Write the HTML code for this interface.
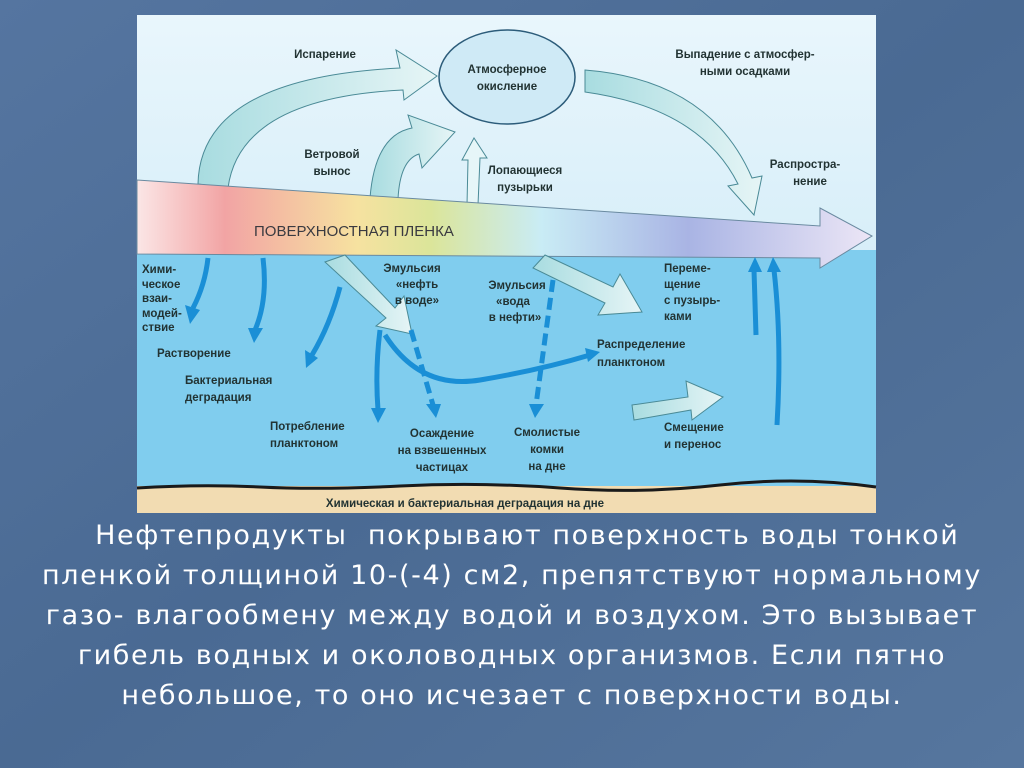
<!DOCTYPE html>
<html><head><meta charset="utf-8"><style>
body{margin:0;width:1024px;height:768px;overflow:hidden;background:#4f6f98;font-family:"Liberation Sans",sans-serif}
svg{position:absolute;left:0;top:0}
.t{position:absolute;left:0;width:1024px;color:#fff;font-family:"DejaVu Sans",sans-serif;font-size:27px;letter-spacing:1.6px;text-align:center;line-height:40px;top:516px;white-space:nowrap}
</style></head><body>
<svg width="1024" height="768" viewBox="0 0 1024 768" font-family="Liberation Sans, sans-serif">
<defs>
<linearGradient id="bg" x1="0" y1="0" x2="1" y2="1"><stop offset="0" stop-color="#5575a0"/><stop offset="0.5" stop-color="#4a6a93"/><stop offset="1" stop-color="#56769e"/></linearGradient>
<linearGradient id="sky" x1="0" y1="0" x2="0" y2="1"><stop offset="0" stop-color="#e9f6fc"/><stop offset="1" stop-color="#c4e6f5"/></linearGradient>
<linearGradient id="film" x1="0" y1="0" x2="1" y2="0"><stop offset="0" stop-color="#fbe6e6"/><stop offset="0.12" stop-color="#f2a4a4"/><stop offset="0.3" stop-color="#f6e2a0"/><stop offset="0.4" stop-color="#dbe59a"/><stop offset="0.55" stop-color="#c9ecf5"/><stop offset="0.75" stop-color="#a9b4e4"/><stop offset="1" stop-color="#ece6f6"/></linearGradient>
<linearGradient id="arr" x1="0" y1="0" x2="1" y2="0"><stop offset="0" stop-color="#a8dce0"/><stop offset="1" stop-color="#e6f5f6"/></linearGradient>
</defs>
<rect width="1024" height="768" fill="url(#bg)"/>
<rect x="137" y="15" width="739" height="498" fill="url(#sky)"/>
<rect x="137" y="250" width="739" height="236" fill="#80cdee"/>
<rect x="137" y="486" width="739" height="27" fill="#f2dcb2"/>
<path d="M137 488 Q200 484 260 487 T400 486 T560 488 T720 485 T876 487" stroke="#1a1a1a" stroke-width="3" fill="none"/>
<path d="M198 184 Q200 78 400 68 L396 50 L437 76 L404 100 L403 90 Q240 98 228 188 Z" fill="url(#arr)" stroke="#4a8a96" stroke-width="1"/>
<path d="M370 198 Q375 135 412 128 L408 115 L455 132 L422 168 L419 154 Q400 160 398 199 Z" fill="url(#arr)" stroke="#4a8a96" stroke-width="1"/>
<path d="M467 205 L468 160 L462 160 L474 138 L487 158 L480 158 L478 205 Z" fill="#e6f6f8" stroke="#4a8a96" stroke-width="1"/>
<path d="M585 70 Q710 80 752 178 L762 176 L754 215 L728 186 L738 184 Q700 108 585 92 Z" fill="url(#arr)" stroke="#4a8a96" stroke-width="1"/>
<path d="M137 180 L820 226 L820 208 L872 236 L820 268 L820 258 L137 254 Z" fill="url(#film)" stroke="#6a8aa0" stroke-width="1"/>
<text x="254" y="236" font-size="15" fill="#3a3a40">ПОВЕРХНОСТНАЯ ПЛЕНКА</text>
<ellipse cx="507" cy="77" rx="68" ry="47" fill="#cfeaf6" stroke="#2c5c7a" stroke-width="1.5"/>
<g font-size="11.5" fill="#233" text-anchor="middle" font-weight="bold">
<text x="507" y="73">Атмосферное</text><text x="507" y="90">окисление</text>
<text x="325" y="58">Испарение</text>
<text x="745" y="58">Выпадение с атмосфер-</text><text x="745" y="75">ными осадками</text>
<text x="332" y="158">Ветровой</text><text x="332" y="175">вынос</text>
<text x="525" y="174">Лопающиеся</text><text x="525" y="191">пузырьки</text>
<text x="805" y="168">Распростра-</text><text x="810" y="185">нение</text>
</g>
<path d="M345 255 L395 308 L404 296 L412 334 L376 326 L386 318 L325 262 Z" fill="url(#arr)" stroke="#4a8a96"/>
<path d="M545 255 L613 287 L620 274 L642 312 L598 315 L605 303 L533 268 Z" fill="url(#arr)" stroke="#4a8a96"/>
<path d="M632 405 L688 397 L686 381 L723 397 L692 420 L691 410 L634 420 Z" fill="url(#arr)" stroke="#4a8a96"/>
<g stroke="#1a8fd6" stroke-width="5" fill="none">
<path d="M208 258 Q205 285 193 308"/><path d="M263 258 Q268 300 255 330"/>
<path d="M340 287 Q330 325 312 355"/><path d="M380 330 Q375 370 378 410"/>
<path d="M385 335 Q420 390 480 380 T590 355"/>
<path d="M411 330 L433 405" stroke-dasharray="12 6"/><path d="M553 280 L536 405" stroke-dasharray="12 6"/>
<path d="M756 335 L754 270"/><path d="M777 425 Q782 340 774 270"/>
</g>
<g fill="#1a8fd6">
<path d="M185 305 L200 310 L190 324Z"/><path d="M248 328 L263 328 L254 343Z"/><path d="M305 350 L318 358 L306 368Z"/>
<path d="M371 408 L386 408 L378 423Z"/><path d="M426 404 L441 404 L436 418Z"/><path d="M529 404 L544 404 L535 418Z"/>
<path d="M585 348 L600 352 L588 362Z"/><path d="M748 272 L762 272 L755 257Z"/><path d="M767 272 L781 272 L773 257Z"/>
</g>
<g font-size="11.5" fill="#233" font-weight="bold">
<text x="142" y="273">Хими-</text><text x="142" y="288">ческое</text><text x="142" y="302">взаи-</text><text x="142" y="317">модей-</text><text x="142" y="331">ствие</text>
<text x="157" y="357">Растворение</text>
<text x="185" y="384">Бактериальная</text><text x="185" y="401">деградация</text>
<text x="270" y="430">Потребление</text><text x="270" y="447">планктоном</text>
<text x="597" y="348">Распределение</text><text x="597" y="366">планктоном</text>
<text x="664" y="272">Переме-</text><text x="664" y="288">щение</text><text x="664" y="304">с пузырь-</text><text x="664" y="320">ками</text>
<text x="664" y="431">Смещение</text><text x="664" y="448">и перенос</text>
</g>
<g font-size="11.5" fill="#233" text-anchor="middle" font-weight="bold">
<text x="412" y="272">Эмульсия</text><text x="417" y="288">«нефть</text><text x="417" y="304">в воде»</text>
<text x="517" y="289">Эмульсия</text><text x="513" y="305">«вода</text><text x="515" y="321">в нефти»</text>
<text x="442" y="437">Осаждение</text><text x="442" y="454">на взвешенных</text><text x="442" y="471">частицах</text>
<text x="547" y="436">Смолистые</text><text x="547" y="453">комки</text><text x="547" y="470">на дне</text>
<text x="465" y="507">Химическая и бактериальная деградация на дне</text>
</g>
</svg>
<div class="t">&nbsp;&nbsp;&nbsp;Нефтепродукты &nbsp;покрывают поверхность воды тонкой<br>пленкой толщиной 10-(-4) см2, препятствуют нормальному<br>газо- влагообмену между водой и воздухом. Это вызывает<br>гибель водных и околоводных организмов. Если пятно<br>небольшое, то оно исчезает с поверхности воды.</div>
</body></html>
